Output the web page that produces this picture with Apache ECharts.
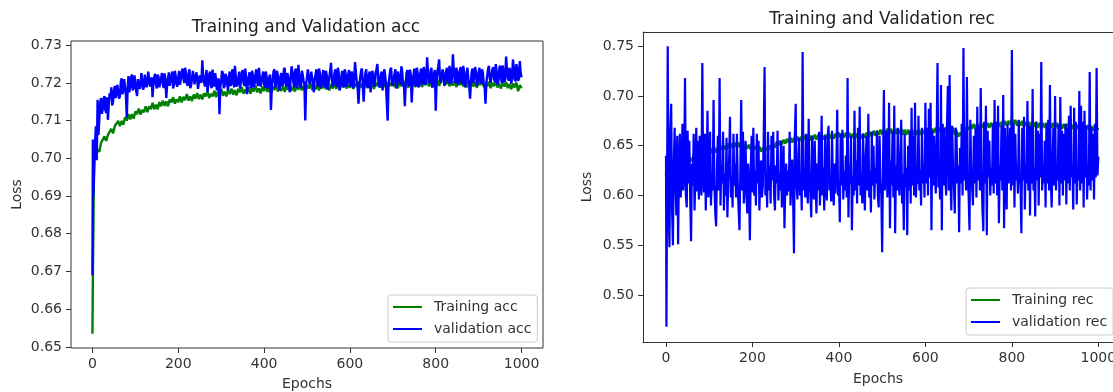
<!DOCTYPE html>
<html><head><meta charset="utf-8">
<script src="https://cdn.jsdelivr.net/npm/echarts@6/dist/echarts.min.js"></script>
<style>html,body{margin:0;padding:0;background:#fff}#c{width:1113px;height:392px}</style>
</head><body><div id="c"></div>
<script>
// ---- tick labels ----
const epochTicks = [0, 200, 400, 600, 800, 1000];
const accTicks = [0.65, 0.66, 0.67, 0.68, 0.69, 0.70, 0.71, 0.72, 0.73];
const recTicks = [0.50, 0.55, 0.60, 0.65, 0.70, 0.75];

// ---- epochs 0 and 1 ----
const earlyEpochs = [0, 1];
const trainAccEarly = [0.6535, 0.669];
const valAccEarly = [0.669, 0.705];
const trainRecEarly = [0.620, 0.628];
const valRecEarly = [0.640, 0.468];

// ---- sampled epochs: training every 4 epochs (4..1000), validation every 2 epochs (2..1000) ----
const trainStep = 4;
const valStep = 2;

const trainAcc = [
0.7009,0.7003,0.7023,0.7017,0.7041,0.7039,0.7058,0.7046,0.7062,0.7059,
0.7078,0.7066,0.7085,0.7080,0.7099,0.7085,0.7099,0.7089,0.7109,0.7100,
0.7117,0.7103,0.7117,0.7105,0.7124,0.7117,0.7132,0.7116,0.7128,0.7122,
0.7138,0.7122,0.7138,0.7130,0.7147,0.7130,0.7142,0.7130,0.7149,0.7138,
0.7153,0.7139,0.7151,0.7138,0.7156,0.7148,0.7162,0.7145,0.7156,0.7149,
0.7164,0.7148,0.7163,0.7154,0.7170,0.7153,0.7164,0.7152,0.7169,0.7158,
0.7173,0.7157,0.7169,0.7156,0.7172,0.7164,0.7178,0.7160,0.7171,0.7164,
0.7179,0.7162,0.7177,0.7168,0.7184,0.7166,0.7177,0.7164,0.7182,0.7170,
0.7185,0.7169,0.7181,0.7167,0.7184,0.7175,0.7189,0.7171,0.7182,0.7174,
0.7188,0.7171,0.7186,0.7177,0.7193,0.7175,0.7185,0.7172,0.7190,0.7178,
0.7192,0.7176,0.7188,0.7174,0.7190,0.7181,0.7195,0.7177,0.7187,0.7179,
0.7193,0.7176,0.7191,0.7182,0.7197,0.7179,0.7189,0.7177,0.7194,0.7182,
0.7196,0.7180,0.7192,0.7178,0.7194,0.7185,0.7199,0.7181,0.7191,0.7183,
0.7197,0.7180,0.7194,0.7185,0.7200,0.7183,0.7193,0.7180,0.7197,0.7185,
0.7200,0.7184,0.7196,0.7182,0.7198,0.7189,0.7203,0.7185,0.7195,0.7187,
0.7201,0.7184,0.7198,0.7189,0.7204,0.7187,0.7197,0.7184,0.7201,0.7189,
0.7203,0.7187,0.7198,0.7184,0.7200,0.7192,0.7205,0.7187,0.7197,0.7189,
0.7204,0.7187,0.7201,0.7192,0.7207,0.7189,0.7199,0.7186,0.7203,0.7191,
0.7206,0.7190,0.7201,0.7187,0.7203,0.7194,0.7207,0.7189,0.7199,0.7191,
0.7206,0.7189,0.7203,0.7194,0.7209,0.7191,0.7201,0.7188,0.7205,0.7193,
0.7208,0.7192,0.7203,0.7230,0.7205,0.7196,0.7209,0.7191,0.7201,0.7193,
0.7206,0.7189,0.7203,0.7194,0.7209,0.7191,0.7201,0.7188,0.7205,0.7193,
0.7206,0.7190,0.7201,0.7187,0.7203,0.7194,0.7207,0.7189,0.7199,0.7191,
0.7203,0.7186,0.7200,0.7191,0.7206,0.7188,0.7198,0.7185,0.7202,0.7190,
0.7202,0.7186,0.7197,0.7183,0.7198,0.7188,0.7201,0.7178,0.7194,0.7186
];

const valAcc = [
0.6900,0.6905,0.7040,0.7085,0.6995,0.7155,0.7062,0.7105,0.7148,0.7160,0.7118,0.7130,0.7158,0.7165,0.7128,0.7120,0.7162,0.7102,0.7142,0.7172,
0.7158,0.7188,0.7140,0.7150,0.7178,0.7192,0.7160,0.7172,0.7195,0.7198,0.7158,0.7165,0.7202,0.7212,0.7170,0.7180,0.7210,0.7206,0.7168,0.7108,
0.7185,0.7218,0.7175,0.7190,0.7214,0.7222,0.7180,0.7186,0.7220,0.7215,0.7178,0.7165,0.7210,0.7212,0.7184,0.7195,0.7226,0.7225,0.7182,0.7190,
0.7222,0.7218,0.7188,0.7202,0.7230,0.7228,0.7190,0.7185,0.7215,0.7162,0.7198,0.7215,0.7224,0.7196,0.7185,0.7222,0.7216,0.7188,0.7192,0.7212,
0.7226,0.7198,0.7186,0.7225,0.7212,0.7160,0.7194,0.7210,0.7228,0.7192,0.7188,0.7220,0.7230,0.7185,0.7196,0.7232,0.7218,0.7196,0.7190,0.7215,
0.7232,0.7195,0.7190,0.7228,0.7238,0.7210,0.7200,0.7240,0.7226,0.7198,0.7192,0.7222,0.7236,0.7186,0.7194,0.7212,0.7232,0.7230,0.7196,0.7192,
0.7228,0.7215,0.7184,0.7188,0.7220,0.7225,0.7200,0.7260,0.7218,0.7205,0.7190,0.7218,0.7234,0.7176,0.7192,0.7222,0.7230,0.7196,0.7186,0.7235,
0.7210,0.7190,0.7226,0.7210,0.7180,0.7185,0.7212,0.7117,0.7190,0.7205,0.7232,0.7225,0.7186,0.7192,0.7224,0.7215,0.7196,0.7180,0.7218,0.7230,
0.7192,0.7198,0.7236,0.7220,0.7188,0.7245,0.7218,0.7190,0.7196,0.7212,0.7230,0.7185,0.7190,0.7225,0.7234,0.7200,0.7192,0.7238,0.7216,0.7170,
0.7196,0.7215,0.7228,0.7195,0.7186,0.7232,0.7220,0.7188,0.7198,0.7222,0.7236,0.7202,0.7192,0.7240,0.7214,0.7190,0.7188,0.7218,0.7230,0.7196,
0.7188,0.7230,0.7216,0.7185,0.7196,0.7214,0.7222,0.7128,0.7190,0.7208,0.7230,0.7236,0.7188,0.7195,0.7232,0.7220,0.7196,0.7180,0.7215,0.7226,
0.7192,0.7198,0.7234,0.7240,0.7200,0.7190,0.7226,0.7218,0.7190,0.7175,0.7212,0.7244,0.7230,0.7205,0.7188,0.7228,0.7238,0.7186,0.7196,0.7248,
0.7216,0.7195,0.7186,0.7232,0.7222,0.7205,0.7196,0.7100,0.7198,0.7215,0.7236,0.7240,0.7196,0.7192,0.7230,0.7228,0.7194,0.7175,0.7212,0.7222,
0.7236,0.7200,0.7190,0.7238,0.7226,0.7186,0.7194,0.7220,0.7234,0.7195,0.7188,0.7232,0.7220,0.7182,0.7196,0.7215,0.7232,0.7253,0.7210,0.7190,
0.7196,0.7225,0.7236,0.7198,0.7190,0.7240,0.7226,0.7180,0.7192,0.7215,0.7232,0.7195,0.7188,0.7236,0.7224,0.7190,0.7198,0.7222,0.7234,0.7200,
0.7190,0.7230,0.7220,0.7186,0.7212,0.7255,0.7228,0.7200,0.7188,0.7145,0.7192,0.7215,0.7232,0.7238,0.7196,0.7150,0.7196,0.7225,0.7236,0.7192,
0.7186,0.7218,0.7230,0.7175,0.7194,0.7232,0.7222,0.7198,0.7190,0.7228,0.7236,0.7250,0.7212,0.7188,0.7194,0.7222,0.7230,0.7180,0.7198,0.7236,
0.7222,0.7195,0.7190,0.7100,0.7196,0.7215,0.7234,0.7240,0.7200,0.7192,0.7188,0.7225,0.7236,0.7185,0.7194,0.7230,0.7226,0.7205,0.7196,0.7244,
0.7228,0.7190,0.7196,0.7138,0.7198,0.7226,0.7234,0.7200,0.7192,0.7235,0.7220,0.7148,0.7196,0.7218,0.7238,0.7196,0.7190,0.7240,0.7226,0.7188,
0.7194,0.7225,0.7238,0.7205,0.7196,0.7242,0.7230,0.7195,0.7212,0.7268,0.7226,0.7210,0.7198,0.7232,0.7240,0.7188,0.7196,0.7225,0.7234,0.7126,
0.7200,0.7230,0.7244,0.7262,0.7208,0.7200,0.7198,0.7236,0.7226,0.7192,0.7200,0.7228,0.7240,0.7210,0.7198,0.7245,0.7232,0.7198,0.7210,0.7276,
0.7236,0.7215,0.7200,0.7240,0.7228,0.7195,0.7205,0.7232,0.7242,0.7205,0.7196,0.7245,0.7230,0.7188,0.7200,0.7225,0.7240,0.7210,0.7196,0.7158,
0.7202,0.7230,0.7238,0.7200,0.7196,0.7242,0.7226,0.7192,0.7204,0.7228,0.7240,0.7205,0.7198,0.7236,0.7226,0.7196,0.7190,0.7145,0.7200,0.7220,
0.7236,0.7245,0.7212,0.7200,0.7198,0.7235,0.7242,0.7210,0.7202,0.7250,0.7228,0.7195,0.7204,0.7238,0.7246,0.7212,0.7200,0.7246,0.7230,0.7202,
0.7210,0.7270,0.7236,0.7215,0.7206,0.7240,0.7232,0.7198,0.7212,0.7262,0.7240,0.7210,0.7204,0.7250,0.7236,0.7205,0.7212,0.7258,0.7226,0.7215
];

const trainRec = [
0.626,0.631,0.624,0.632,0.627,0.634,0.628,0.635,0.630,0.636,
0.631,0.637,0.632,0.638,0.634,0.640,0.635,0.641,0.637,0.642,
0.638,0.644,0.640,0.645,0.641,0.647,0.642,0.648,0.643,0.648,
0.644,0.650,0.645,0.650,0.646,0.652,0.647,0.652,0.648,0.653,
0.648,0.653,0.648,0.652,0.647,0.652,0.647,0.651,0.646,0.651,
0.646,0.650,0.645,0.649,0.644,0.648,0.643,0.648,0.645,0.650,
0.647,0.652,0.648,0.654,0.650,0.655,0.651,0.656,0.652,0.657,
0.653,0.658,0.653,0.658,0.654,0.659,0.654,0.659,0.655,0.660,
0.655,0.660,0.655,0.660,0.656,0.661,0.656,0.661,0.656,0.661,
0.656,0.661,0.657,0.662,0.657,0.662,0.657,0.662,0.658,0.663,
0.658,0.663,0.658,0.663,0.658,0.663,0.657,0.662,0.657,0.662,
0.657,0.662,0.657,0.662,0.658,0.663,0.658,0.664,0.659,0.665,
0.660,0.665,0.661,0.666,0.661,0.666,0.662,0.667,0.662,0.667,
0.662,0.667,0.662,0.667,0.662,0.667,0.661,0.666,0.661,0.666,
0.661,0.666,0.661,0.666,0.661,0.666,0.661,0.666,0.662,0.667,
0.662,0.667,0.662,0.667,0.663,0.668,0.663,0.668,0.664,0.669,
0.664,0.669,0.664,0.669,0.663,0.668,0.661,0.665,0.659,0.663,
0.660,0.665,0.664,0.669,0.666,0.671,0.667,0.672,0.667,0.672,
0.667,0.672,0.668,0.673,0.668,0.673,0.668,0.673,0.669,0.674,
0.669,0.674,0.669,0.674,0.670,0.675,0.670,0.675,0.671,0.677,
0.671,0.676,0.670,0.675,0.670,0.675,0.669,0.674,0.669,0.674,
0.669,0.674,0.669,0.674,0.668,0.673,0.668,0.673,0.668,0.673,
0.668,0.673,0.668,0.673,0.668,0.673,0.667,0.672,0.667,0.672,
0.667,0.672,0.667,0.672,0.667,0.672,0.666,0.671,0.666,0.671,
0.666,0.671,0.666,0.671,0.665,0.670,0.665,0.670,0.665,0.668
];

const valRec = [
0.560,0.750,0.600,0.548,0.662,0.692,0.585,0.550,0.630,0.668,0.610,0.580,0.660,0.551,0.625,0.662,0.598,0.615,0.672,0.605,
0.628,0.718,0.600,0.588,0.665,0.612,0.655,0.596,0.554,0.632,0.610,0.662,0.585,0.622,0.668,0.604,0.655,0.596,0.660,0.615,
0.600,0.733,0.618,0.603,0.662,0.585,0.628,0.685,0.598,0.612,0.664,0.590,0.620,0.605,0.696,0.610,0.582,0.569,0.630,0.660,
0.605,0.718,0.590,0.630,0.612,0.664,0.585,0.622,0.600,0.658,0.578,0.615,0.636,0.679,0.598,0.620,0.588,0.662,0.610,0.632,
0.598,0.662,0.612,0.585,0.565,0.628,0.696,0.605,0.664,0.592,0.618,0.655,0.600,0.582,0.632,0.612,0.555,0.625,0.660,0.603,
0.668,0.600,0.625,0.590,0.662,0.612,0.655,0.585,0.618,0.635,0.598,0.610,0.658,0.729,0.600,0.622,0.588,0.664,0.605,0.630,
0.592,0.660,0.615,0.664,0.600,0.585,0.630,0.612,0.665,0.595,0.622,0.605,0.655,0.588,0.618,0.650,0.567,0.610,0.632,0.600,
0.625,0.604,0.664,0.590,0.615,0.636,0.598,0.542,0.660,0.692,0.610,0.596,0.630,0.658,0.600,0.620,0.585,0.744,0.605,0.628,
0.598,0.662,0.612,0.592,0.677,0.620,0.600,0.578,0.660,0.615,0.596,0.655,0.610,0.582,0.632,0.605,0.664,0.590,0.622,0.680,
0.600,0.628,0.585,0.660,0.612,0.595,0.660,0.670,0.605,0.620,0.594,0.665,0.610,0.590,0.632,0.602,0.625,0.686,0.600,0.615,
0.573,0.662,0.610,0.666,0.596,0.625,0.605,0.640,0.598,0.718,0.578,0.630,0.612,0.660,0.565,0.620,0.600,0.685,0.605,0.635,
0.592,0.668,0.610,0.689,0.600,0.622,0.592,0.662,0.612,0.585,0.638,0.660,0.605,0.682,0.598,0.625,0.583,0.664,0.610,0.650,
0.596,0.628,0.612,0.665,0.600,0.588,0.660,0.615,0.600,0.543,0.630,0.706,0.605,0.625,0.665,0.598,0.618,0.693,0.567,0.635,
0.610,0.664,0.598,0.690,0.562,0.630,0.605,0.668,0.615,0.600,0.638,0.676,0.592,0.622,0.565,0.662,0.608,0.628,0.560,0.650,
0.605,0.665,0.592,0.688,0.610,0.660,0.600,0.693,0.598,0.620,0.612,0.680,0.605,0.625,0.590,0.668,0.612,0.632,0.598,0.693,
0.612,0.668,0.600,0.687,0.618,0.693,0.565,0.665,0.610,0.660,0.620,0.602,0.660,0.733,0.608,0.625,0.596,0.711,0.565,0.672,
0.610,0.668,0.618,0.600,0.672,0.710,0.605,0.721,0.615,0.585,0.670,0.625,0.608,0.582,0.668,0.662,0.612,0.630,0.563,0.648,
0.612,0.672,0.600,0.748,0.615,0.665,0.605,0.719,0.618,0.600,0.565,0.676,0.622,0.608,0.590,0.660,0.612,0.668,0.598,0.689,
0.615,0.670,0.605,0.708,0.620,0.585,0.564,0.674,0.612,0.690,0.560,0.665,0.618,0.655,0.600,0.628,0.610,0.672,0.602,0.696,
0.612,0.674,0.600,0.690,0.572,0.630,0.615,0.670,0.605,0.701,0.567,0.668,0.618,0.586,0.672,0.612,0.628,0.668,0.605,0.746,
0.610,0.672,0.588,0.662,0.615,0.630,0.602,0.676,0.620,0.610,0.562,0.668,0.615,0.679,0.586,0.632,0.612,0.695,0.605,0.670,
0.580,0.670,0.612,0.707,0.605,0.628,0.579,0.674,0.615,0.665,0.590,0.662,0.618,0.734,0.605,0.630,0.612,0.655,0.588,0.672,
0.612,0.676,0.605,0.711,0.618,0.588,0.632,0.668,0.610,0.700,0.605,0.628,0.615,0.672,0.590,0.699,0.612,0.665,0.600,0.662,
0.615,0.672,0.591,0.668,0.612,0.680,0.605,0.690,0.618,0.630,0.586,0.688,0.612,0.674,0.591,0.628,0.615,0.705,0.605,0.690,
0.612,0.674,0.588,0.685,0.618,0.670,0.596,0.632,0.610,0.724,0.605,0.668,0.615,0.662,0.596,0.672,0.618,0.728,0.620,0.639
];

function pairs(early, step, vals) {
  const out = early.map((v, i) => [earlyEpochs[i], v]);
  vals.forEach((v, i) => out.push([step * (i + 1), v]));
  return out;
}

const FONT = 'DejaVu Sans';
const TXT = '#333';
const GREEN = '#008000';
const BLUE = '#0000ff';
const SPINE = '#333';

function xAxisFor(gi, mn, mx, gap, showLine) {
  return {
    gridIndex: gi, type: 'value', min: mn, max: mx,
    name: 'Epochs', nameLocation: 'middle', nameGap: gap,
    nameTextStyle: {fontFamily: FONT, fontSize: 14, color: TXT},
    splitLine: {show: false},
    axisLine: {show: showLine, onZero: false, lineStyle: {color: SPINE, width: 1}},
    axisTick: {show: true, length: 5, lineStyle: {color: SPINE, width: 1}, customValues: epochTicks},
    axisLabel: {customValues: epochTicks, margin: 9, fontFamily: FONT, fontSize: 14, color: TXT,
      formatter: v => String(Math.round(v))}
  };
}
function yAxisFor(gi, mn, mx, ticks, gap, showLine) {
  return {
    gridIndex: gi, type: 'value', min: mn, max: mx,
    name: 'Loss', nameLocation: 'middle', nameGap: gap, nameRotate: 90,
    nameTextStyle: {fontFamily: FONT, fontSize: 14, color: TXT},
    splitLine: {show: false},
    axisLine: {show: showLine, onZero: false, lineStyle: {color: SPINE, width: 1}},
    axisTick: {show: true, length: 5, lineStyle: {color: SPINE, width: 1}, customValues: ticks},
    axisLabel: {customValues: ticks, margin: 9, fontFamily: FONT, fontSize: 14, color: TXT,
      formatter: v => v.toFixed(2)}
  };
}
function lineSeries(name, gi, color, data, w) {
  return {
    name, type: 'line', xAxisIndex: gi, yAxisIndex: gi, data,
    showSymbol: false, symbol: 'none', color, sampling: null,
    lineStyle: {color, width: w}, animation: false
  };
}
function legendFor(left, top, names) {
  return {
    left, top, orient: 'vertical', icon: 'rect', itemWidth: 29, itemHeight: 2, itemGap: 6,
    padding: [4, 6, 5, 5], borderColor: '#cccccc', borderWidth: 1, borderRadius: 3,
    backgroundColor: 'rgba(255,255,255,0.8)',
    textStyle: {fontFamily: FONT, fontSize: 14, color: TXT, lineHeight: 16, padding: [0, 0, 0, 7]},
    data: names
  };
}

const chart = echarts.init(document.getElementById('c'), null, {renderer: 'canvas'});
chart.setOption({
  backgroundColor: '#ffffff',
  animation: false,
  title: [
    {text: 'Training and Validation acc', left: 306, top: 19, textAlign: 'center', padding: 0,
     textStyle: {fontFamily: FONT, fontSize: 17, fontWeight: 'normal', color: '#222'}},
    {text: 'Training and Validation rec', left: 882, top: 11, textAlign: 'center', padding: 0,
     textStyle: {fontFamily: FONT, fontSize: 17, fontWeight: 'normal', color: '#222'}}
  ],
  legend: [
    legendFor(388, 295, ['Training acc', 'validation acc']),
    legendFor(966, 288, ['Training rec', 'validation rec'])
  ],
  grid: [
    {left: 71, top: 41, width: 472, height: 307, show: true, borderColor: SPINE, borderWidth: 1,
     backgroundColor: 'transparent', outerBoundsMode: 'none', containLabel: false},
    {left: 643, top: 32, width: 470, height: 310, show: false, outerBoundsMode: 'none', containLabel: false}
  ],
  xAxis: [
    xAxisFor(0, -50, 1050, 29, false),
    xAxisFor(1, -53.2, 1033.9, 30, true),
    {gridIndex: 1, type: 'value', position: 'top', min: -53.2, max: 1033.9,
     axisLine: {show: true, onZero: false, lineStyle: {color: SPINE, width: 1}},
     axisTick: {show: false}, axisLabel: {show: false}, splitLine: {show: false}}
  ],
  yAxis: [
    yAxisFor(0, 0.6497, 0.7311, accTicks, 47, false),
    yAxisFor(1, 0.4528, 0.7642, recTicks, 49, true)
  ],
  series: [
    lineSeries('Training acc', 0, GREEN, pairs(trainAccEarly, trainStep, trainAcc), 2.4),
    lineSeries('validation acc', 0, BLUE, pairs(valAccEarly, valStep, valAcc), 2.4),
    lineSeries('Training rec', 1, GREEN, pairs(trainRecEarly, trainStep, trainRec), 2.4),
    lineSeries('validation rec', 1, BLUE, pairs(valRecEarly, valStep, valRec), 2.2)
  ]
});
</script>
</body></html>
